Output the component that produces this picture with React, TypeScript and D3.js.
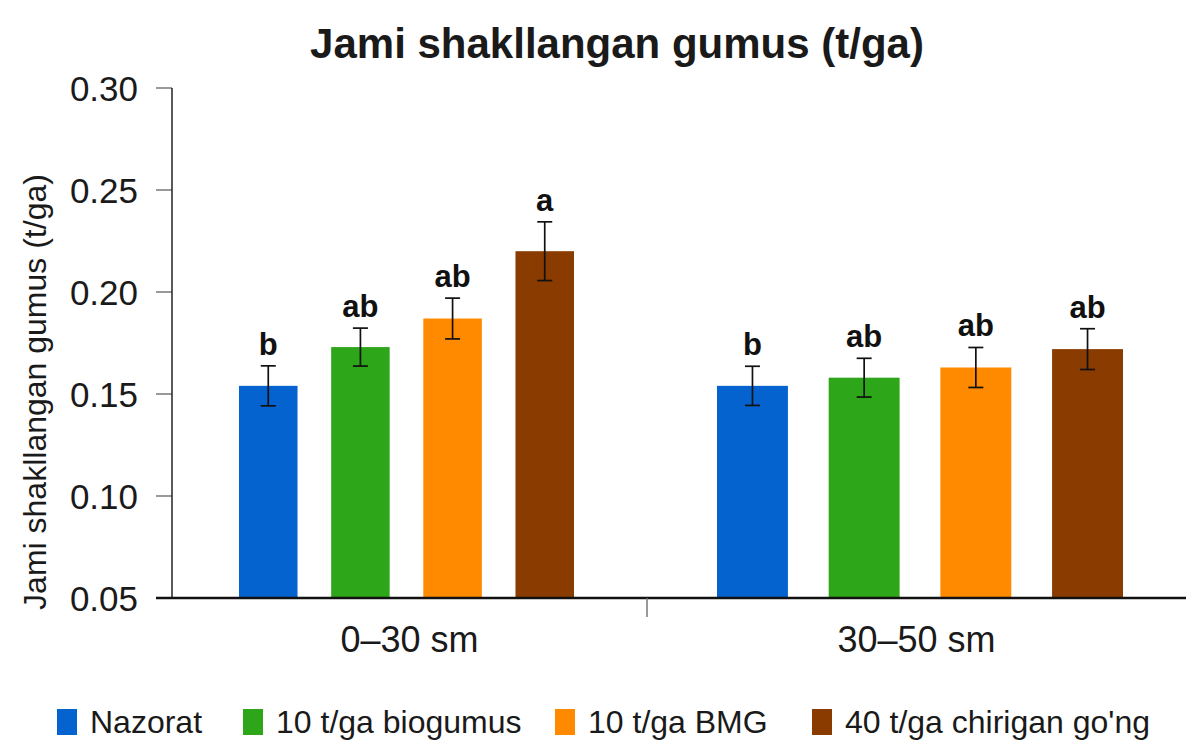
import React from 'react';
import * as d3 from 'd3';

const depths = ['0–30 sm', '30–50 sm'];
const treatments = ['Nazorat', '10 t/ga biogumus', '10 t/ga BMG', "40 t/ga chirigan go'ng"];
const colors = ['#0563CF', '#2EA619', '#FF8A00', '#8A3B00'];
const means0to30 = [0.154, 0.173, 0.187, 0.220];
const means30to50 = [0.154, 0.158, 0.163, 0.172];
const err0to30 = [0.0098, 0.0093, 0.0100, 0.0144];
const err30to50 = [0.0096, 0.0095, 0.0098, 0.0100];
const letters0to30 = ['b', 'ab', 'ab', 'a'];
const letters30to50 = ['b', 'ab', 'ab', 'ab'];
const yTicks = [0.05, 0.10, 0.15, 0.20, 0.25, 0.30];
const title = 'Jami shakllangan gumus (t/ga)';
const yTitle = 'Jami shakllangan gumus (t/ga)';

const W = 1189;
const H = 740;
const FONT = "'Liberation Sans', Arial, Helvetica, sans-serif";

export default function App() {
  const y = d3.scaleLinear().domain([0.05, 0.30]).range([598, 88]);
  const edges = [172, 647, 1186];
  const groupRanges: [number, number][] = [[239, 574], [717, 1123]];
  const groups = [
    { label: depths[0], means: means0to30, errs: err0to30, letters: letters0to30 },
    { label: depths[1], means: means30to50, errs: err30to50, letters: letters30to50 },
  ];
  const inner = groupRanges.map((r) =>
    d3.scaleBand<string>().domain(treatments).range(r).paddingInner(0.365).paddingOuter(0)
  );
  const legendTextX = [90, 276, 588, 845];

  return (
    <svg width={W} height={H} style={{ position: 'absolute', left: 0, top: 0, background: '#fff' }} fontFamily={FONT}>
      <rect x={0} y={0} width={W} height={H} fill="#fff" />
      <text x={617} y={58} textAnchor="middle" fontSize={42} fontWeight="bold" fill="#1a1a1a">{title}</text>

      {/* y ticks */}
      {yTicks.map((t) => (
        <g key={t}>
          <line x1={156} x2={172} y1={y(t)} y2={y(t)} stroke="#777" strokeWidth={1.5} />
          <text x={138} y={y(t) + 12.5} textAnchor="end" fontSize={35} fill="#1a1a1a">{t.toFixed(2)}</text>
        </g>
      ))}
      <text transform={`translate(46, 392) rotate(-90)`} textAnchor="middle" fontSize={32} fill="#1a1a1a">{yTitle}</text>

      {/* bars */}
      {groups.map((g, gi) => (
        <g key={g.label}>
          {treatments.map((t, i) => {
            const x0 = inner[gi](t)!;
            const bw = inner[gi].bandwidth();
            const cx = x0 + bw / 2;
            const m = g.means[i];
            const e = g.errs[i];
            return (
              <g key={t}>
                <rect x={x0} y={y(m)} width={bw} height={y(0.05) - y(m)} fill={colors[i]} />
                <line x1={cx} x2={cx} y1={y(m + e)} y2={y(m - e)} stroke="#111" strokeWidth={1.7} />
                <line x1={cx - 7.5} x2={cx + 7.5} y1={y(m + e)} y2={y(m + e)} stroke="#111" strokeWidth={1.7} />
                <line x1={cx - 7.5} x2={cx + 7.5} y1={y(m - e)} y2={y(m - e)} stroke="#111" strokeWidth={1.7} />
                <text x={cx} y={y(m + e) - 11} textAnchor="middle" fontSize={31} fontWeight="bold" fill="#111">{g.letters[i]}</text>
              </g>
            );
          })}
          <text x={(edges[gi] + edges[gi + 1]) / 2} y={652} textAnchor="middle" fontSize={36} fill="#1a1a1a">{g.label}</text>
        </g>
      ))}

      {/* axes */}
      <line x1={172} x2={172} y1={y(0.30)} y2={y(0.05)} stroke="#222" strokeWidth={1.5} />
      <line x1={156} x2={edges[2]} y1={y(0.05)} y2={y(0.05)} stroke="#111" strokeWidth={2.5} />
      <line x1={edges[1]} x2={edges[1]} y1={y(0.05)} y2={y(0.05) + 19} stroke="#777" strokeWidth={1.5} />

      {/* legend */}
      {treatments.map((t, i) => (
        <g key={t}>
          <rect x={legendTextX[i] - 33} y={709} width={20} height={26} fill={colors[i]} />
          <text x={legendTextX[i]} y={733} fontSize={32} fill="#1a1a1a">{t}</text>
        </g>
      ))}
    </svg>
  );
}
